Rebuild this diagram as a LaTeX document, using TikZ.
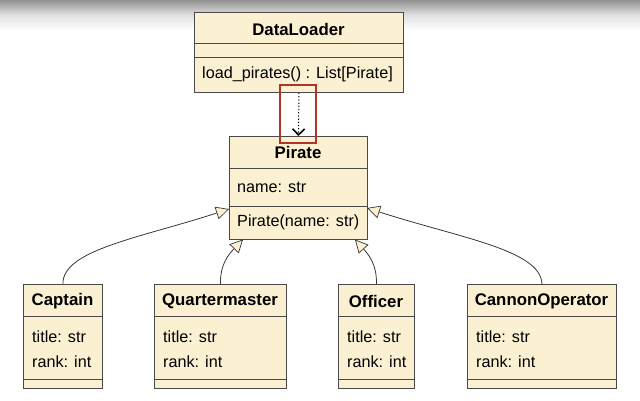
\documentclass[tikz,border=0pt]{standalone}
\usepackage{fontspec}
\setmainfont{Liberation Sans}
\usetikzlibrary{arrows.meta,calc}

\definecolor{cream}{RGB}{251,240,209}
\definecolor{boxline}{RGB}{72,72,72}
\definecolor{wire}{RGB}{55,55,55}
\definecolor{markred}{RGB}{178,52,40}
\definecolor{topgray}{RGB}{145,145,145}

\tikzset{
  classbox/.style={draw=boxline, fill=cream, line width=0.9pt, rectangle,
    inner sep=0pt, anchor=north west},
  sep/.style={draw=boxline, line width=0.9pt},
  ctitle/.style={font=\fontsize{16.8}{19}\selectfont\bfseries, inner sep=0pt, anchor=center},
  member/.style={font=\fontsize{16.2}{19}\selectfont, inner sep=0pt, anchor=west},
  inherit/.style={draw=wire, line width=0.8pt,
    -{Triangle[length=13pt,width=13pt,fill=cream,line width=0.7pt]}},
  depend/.style={draw=black, line width=1pt, dash pattern=on 1.3pt off 1.9pt,
    -{Straight Barb[length=6pt,width=12pt,line width=1.6pt]}},
  highlight/.style={draw=markred, line width=2.2pt, rectangle, inner sep=0pt,
    anchor=north west}
}

\begin{document}
\begin{tikzpicture}[x=1pt, y=-1pt]
  \useasboundingbox (0,0) rectangle (640,400);
  % window shadow along the top edge
  \shade[top color=topgray, bottom color=white, middle color=white!88!black]
    (0,0) rectangle (640,30);

  % DataLoader
  \node[classbox, minimum width=209pt, minimum height=80pt] (dl) at (194,12) {};
  \draw[sep] (194,43) -- (403,43);
  \draw[sep] (194,57) -- (403,57);
  \node[ctitle] (dlt) at (298.5,29) {DataLoader};
  \node[member] (dlm) at (202,74.5) {load\_pirates() : List[Pirate]};

  % Pirate
  \node[classbox, minimum width=138pt, minimum height=103pt] (pir) at (229,136) {};
  \draw[sep] (229,168) -- (367,168);
  \draw[sep] (229,206) -- (367,206);
  \node[ctitle] (pirt) at (298,152.5) {Pirate};
  \node[member] (pira) at (237,187) {name: str};
  \node[member] (pirm) at (237,222.5) {Pirate(name: str)};

  % Subclasses
  \foreach \nm/\lx/\rx/\txt in {cap/23/102/Captain, qm/154/286/Quartermaster,
      off/338/414/Officer, can/467/616/CannonOperator}{
    \pgfmathsetmacro{\w}{\rx-\lx}
    \node[classbox, minimum width=\w pt, minimum height=104pt] (\nm) at (\lx,284) {};
    \draw[sep] (\lx,316) -- (\rx,316);
    \draw[sep] (\lx,379) -- (\rx,379);
    \node[ctitle] (\nm t) at ({(\lx+\rx)/2},301) {\txt};
    \node[member] (\nm a) at (\lx+9,336.5) {title: str};
    \node[member] (\nm b) at (\lx+9,361.5) {rank: int};
  }

  % arrow heads on Pirate
  \coordinate (tcap) at (229,209);
  \coordinate (tqm) at (243,239.5);
  \coordinate (toff) at (355,239.5);
  \coordinate (tcan) at (367,208);

  \draw[inherit] (cap.north) .. controls (62,250) and (140,238) .. (tcap);
  \draw[inherit] (qm.north) .. controls (220,264) and (229,254) .. (tqm);
  \draw[inherit] (off.north) .. controls (377,264) and (368,254) .. (toff);
  \draw[inherit] (can.north) .. controls (541,250) and (460,238) .. (tcan);

  % dependency
  \draw[depend] (dl.south) -- (pir.north);
  \node[highlight, minimum width=36pt, minimum height=58pt] (hl) at (278.5,83.5) {};
\end{tikzpicture}
\end{document}
